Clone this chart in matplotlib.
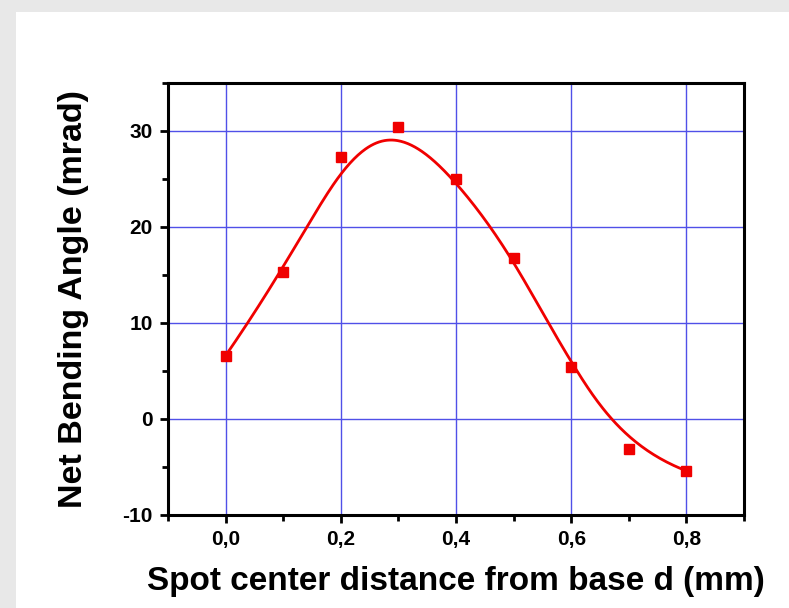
import numpy as np
import matplotlib.pyplot as plt
from matplotlib.patches import Rectangle
from matplotlib.ticker import MultipleLocator, FuncFormatter

plt.rcParams['font.family'] = ['Liberation Sans', 'DejaVu Sans']
plt.rcParams['font.weight'] = 'bold'

# measured bending angle vs spot position
distance = [0.0, 0.1, 0.2, 0.3, 0.4, 0.5, 0.6, 0.7, 0.8]
angle = [6.6, 15.3, 27.3, 30.4, 25.0, 16.8, 5.4, -3.1, -5.4]


def bspline(px, py, k=3, num=400):
    # clamped uniform B-spline using the points as control polygon
    px = np.asarray(px, float)
    py = np.asarray(py, float)
    n = len(px)
    inner = np.arange(1, n - k)
    knots = np.concatenate([np.zeros(k + 1), inner, np.full(k + 1, n - k)])
    t = np.linspace(0, n - k, num)
    t[-1] -= 1e-9
    N = np.zeros((num, len(knots) - 1))
    for i in range(len(knots) - 1):
        N[:, i] = (t >= knots[i]) & (t < knots[i + 1])
    for d in range(1, k + 1):
        Nn = np.zeros((num, len(knots) - 1 - d))
        for i in range(len(knots) - 1 - d):
            a = knots[i + d] - knots[i]
            b = knots[i + d + 1] - knots[i + 1]
            left = (t - knots[i]) / a * N[:, i] if a > 0 else 0
            right = (knots[i + d + 1] - t) / b * N[:, i + 1] if b > 0 else 0
            Nn[:, i] = left + right
        N = Nn
    return N @ px, N @ py


fig = plt.figure(figsize=(7.89, 6.08), dpi=100, facecolor='#e8e8e8')
fig.patches.append(Rectangle((16 / 789, 0), 1, 1 - 12 / 608,
                             transform=fig.transFigure, facecolor='white',
                             edgecolor='none', zorder=-10))

ax = fig.add_axes([168 / 789, 1 - 515 / 608, (744 - 168) / 789, (515 - 83) / 608])
ax.set_zorder(5)
ax.patch.set_alpha(0)

cx, cy = bspline(distance, angle)
ax.plot(cx, cy, color='#f00000', lw=2.0, zorder=3)
ax.plot(distance, angle, 's', color='#f00000', ms=7, zorder=4)

ax.set_xlim(-0.1, 0.9)
ax.set_ylim(-10, 35)
ax.xaxis.set_major_locator(MultipleLocator(0.2))
ax.xaxis.set_minor_locator(MultipleLocator(0.1))
ax.yaxis.set_major_locator(MultipleLocator(10))
ax.yaxis.set_minor_locator(MultipleLocator(5))
ax.xaxis.set_major_formatter(FuncFormatter(lambda v, p: f'{v:.1f}'.replace('.', ',')))
ax.yaxis.set_major_formatter(FuncFormatter(lambda v, p: f'{v:.0f}'))

ax.grid(True, which='major', color='#5050e8', lw=1.0)
ax.set_axisbelow(True)
for s in ax.spines.values():
    s.set_linewidth(2.2)
ax.tick_params(which='major', direction='out', length=6, width=2,
               labelsize=15, pad=5)
ax.tick_params(which='minor', direction='out', length=4, width=2)

ax.set_xlabel('Spot center distance from base d (mm)', fontsize=24,
              fontweight='bold')
ax.set_ylabel('Net Bending Angle (mrad)', fontsize=24.5, fontweight='bold')
ax.xaxis.set_label_coords(0.5, -0.118)
ax.yaxis.set_label_coords(-0.138, 0.5)

fig.savefig('out.png', dpi=100, facecolor=fig.get_facecolor())
